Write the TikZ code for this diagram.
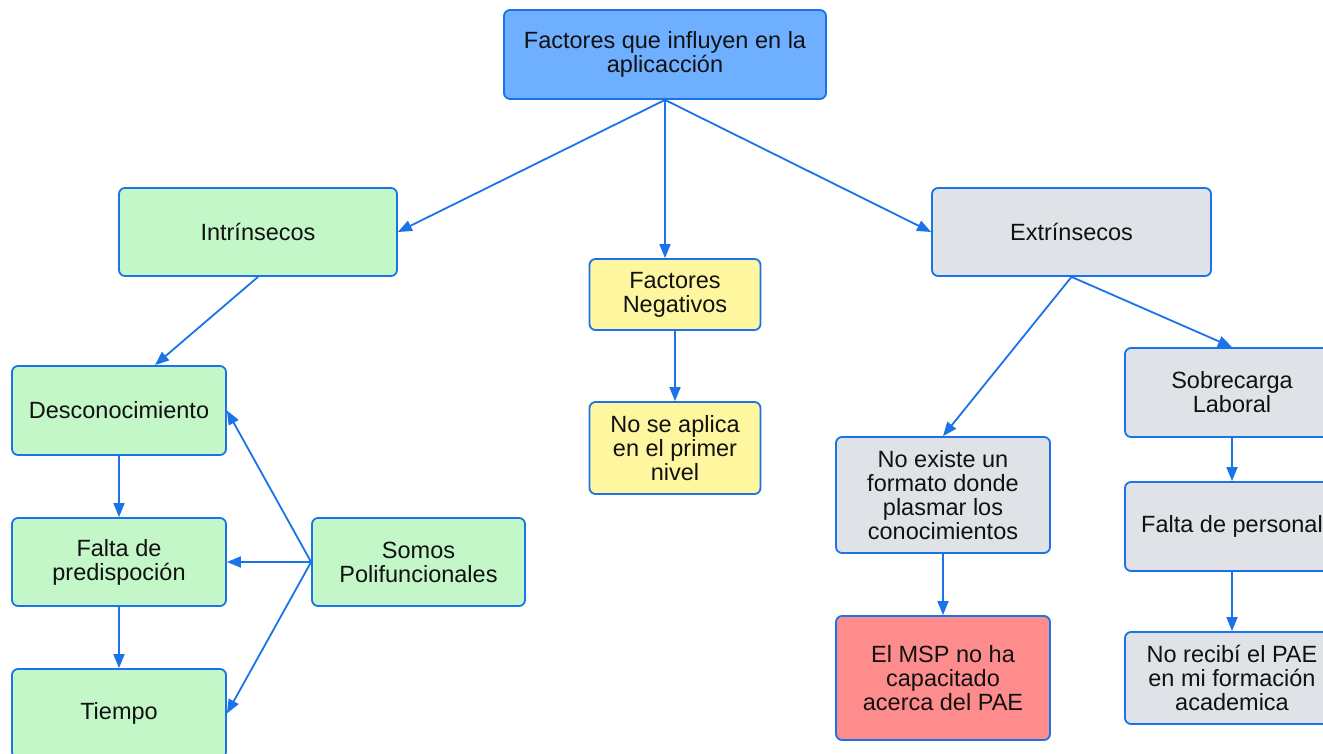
\documentclass[tikz,border=0pt]{standalone}
\usepackage{fontspec}
\setmainfont{Liberation Sans}
\usetikzlibrary{arrows.meta}

\definecolor{edgeblue}{RGB}{26,115,232}
\definecolor{rootfill}{RGB}{110,176,255}
\definecolor{greenfill}{RGB}{195,247,200}
\definecolor{yellowfill}{RGB}{255,247,160}
\definecolor{grayfill}{RGB}{223,226,231}
\definecolor{redfill}{RGB}{255,140,140}
\definecolor{inktext}{RGB}{17,17,17}

\begin{document}
\begin{tikzpicture}[x=1pt,y=-1pt,
        box/.style={draw=edgeblue, line width=1.8pt, rounded corners=6pt, align=center,
            inner sep=0pt, text=inktext, font=\fontsize{23.5}{24}\selectfont,
            minimum width=214pt, minimum height=89pt},
        link/.style={draw=edgeblue, line width=1.8pt, -{Triangle[length=14pt,width=11pt]}}]
        \useasboundingbox (0,0) rectangle (1323,754);
        \clip (0,0) rectangle (1323,754);

        \node[box, fill=rootfill, minimum width=322pt] (root) at (665,54.5) {Factores que influyen en la\\aplicacción};

        \node[box, fill=greenfill, minimum width=278pt, minimum height=88pt] (intr) at (258,232) {Intrínsecos};
        \node[box, fill=yellowfill, minimum width=171pt, minimum height=71pt] (neg) at (675,294.5) {Factores\\Negativos};
        \node[box, fill=grayfill, minimum width=279pt, minimum height=88pt] (extr) at (1071.5,232) {Extrínsecos};

        \node[box, fill=greenfill] (desc) at (119,410.5) {Desconocimiento};
        \node[box, fill=greenfill, minimum height=88pt] (pred) at (119,562) {Falta de\\predispoción};
        \node[box, fill=greenfill] (tiempo) at (119,713.5) {Tiempo};
        \node[box, fill=greenfill, minimum width=213pt, minimum height=88pt] (somos) at (418.5,562) {Somos\\Polifuncionales};

        \node[box, fill=yellowfill, minimum width=171pt, minimum height=92pt] (aplica) at (675,448) {No se aplica\\en el primer\\nivel};

        \node[box, fill=grayfill, minimum height=116pt] (formato) at (943,495) {No existe un\\formato donde\\plasmar los\\conocimientos};
        \node[box, fill=redfill, minimum height=124pt] (msp) at (943,678) {El MSP no ha\\capacitado\\acerca del PAE};

        \node[box, fill=grayfill] (sobre) at (1232,392.5) {Sobrecarga\\Laboral};
        \node[box, fill=grayfill] (personal) at (1232,526.5) {Falta de personal};
        \node[box, fill=grayfill, minimum height=92pt] (recibi) at (1232,678) {No recibí el PAE\\en mi formación\\academica};

        % ramas principales
        \draw[link] (root.south) -- (intr.east);
        \draw[link] (root.south) -- (root.south |- neg.north);
        \draw[link] (root.south) -- (extr.west);

        \draw[link] (intr.south) -- ([xshift=36pt]desc.north);
        \draw[link] (desc) -- (pred);
        \draw[link] (pred) -- (tiempo);
        \draw[link] (somos.west) -- (desc.east);
        \draw[link] (somos.west) -- (pred.east);
        \draw[link] (somos.west) -- (tiempo.east);

        \draw[link] (neg) -- (aplica);

        \draw[link] (extr.south) -- (formato.north);
        \draw[link] (extr.south) -- (sobre.north);
        \draw[link] (formato) -- (msp);
        \draw[link] (sobre) -- (personal);
        \draw[link] (personal) -- (recibi);
    \end{tikzpicture}
\end{document}
